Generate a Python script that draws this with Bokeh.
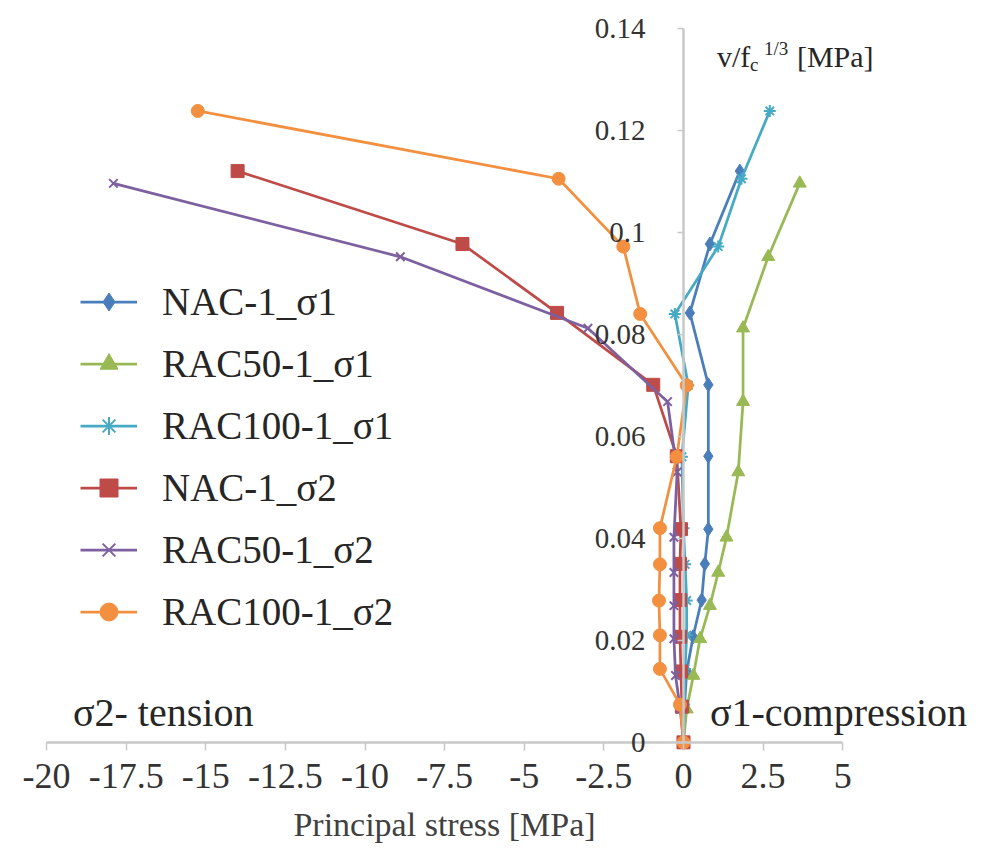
from bokeh.plotting import figure
from bokeh.models import Range1d, FixedTicker, Label
from bokeh.embed import file_html
from bokeh.resources import INLINE

# ---------------- data ----------------
# normalised shear stress v/fc^(1/3) [MPa] for each specimen
y_nac = [0, 0.0070, 0.0139, 0.0207, 0.0279, 0.0350, 0.0418, 0.0561, 0.0701, 0.0842, 0.0977, 0.1120]
y_rac50 = [0, 0.0065, 0.0131, 0.0203, 0.0268, 0.0333, 0.0402, 0.0530, 0.0668, 0.0812, 0.0952, 0.1096]
y_rac100 = [0, 0.0074, 0.0144, 0.0210, 0.0278, 0.0349, 0.0420, 0.0560, 0.0700, 0.0840, 0.0972, 0.1105, 0.1238]

# principal stresses [MPa]
nac_s1 = [0, 0.03, 0.10, 0.30, 0.57, 0.67, 0.78, 0.78, 0.78, 0.20, 0.83, 1.77]
rac50_s1 = [0, 0.10, 0.31, 0.52, 0.83, 1.09, 1.35, 1.72, 1.87, 1.87, 2.66, 3.65]
rac100_s1 = [0, 0.02, 0.05, 0.10, 0.10, 0.05, 0.00, -0.05, 0.15, -0.27, 1.09, 1.82, 2.71]
nac_s2 = [0, -0.05, -0.08, -0.11, -0.11, -0.11, -0.08, -0.21, -0.95, -3.97, -6.94, -14.0]
rac50_s2 = [0, -0.10, -0.25, -0.30, -0.30, -0.30, -0.30, -0.20, -0.50, -3.0, -8.89, -17.9]
rac100_s2 = [0, -0.11, -0.74, -0.74, -0.77, -0.74, -0.74, -0.21, 0.10, -1.36, -1.89, -3.92, -15.25]

series_names = ["NAC-1_\u03c31", "RAC50-1_\u03c31", "RAC100-1_\u03c31",
                "NAC-1_\u03c32", "RAC50-1_\u03c32", "RAC100-1_\u03c32"]

x_ticks = [-20, -17.5, -15, -12.5, -10, -7.5, -5, -2.5, 0, 2.5, 5]
x_tick_labels = ["-20", "-17.5", "-15", "-12.5", "-10", "-7.5", "-5", "-2.5", "0", "2.5", "5"]
y_ticks = [0, 0.02, 0.04, 0.06, 0.08, 0.1, 0.12, 0.14]
y_tick_labels = ["0", "0.02", "0.04", "0.06", "0.08", "0.1", "0.12", "0.14"]

# ---------------- figure ----------------
FONT = "Liberation Serif"

p = figure(width=978, height=851, output_backend="svg", toolbar_location=None,
           x_range=Range1d(-21.445, 9.263), y_range=Range1d(-0.0214, 0.14545),
           min_border=0)
p.outline_line_color = None
p.grid.visible = False
p.background_fill_color = "white"

# x axis through y = 0
xa = p.xaxis[0]
xa.fixed_location = 0
xa.bounds = (-20, 5)
xa.ticker = FixedTicker(ticks=x_ticks)
xa.major_label_overrides = dict(zip(x_ticks, x_tick_labels))
xa.axis_line_color = "#c8c8c8"
xa.axis_line_width = 2.5
xa.major_tick_line_color = "#c8c8c8"
xa.major_tick_line_width = 1.5
xa.major_tick_out = 8
xa.major_tick_in = 0
xa.minor_tick_line_color = None
xa.major_label_text_font = FONT
xa.major_label_text_font_style = "normal"
xa.major_label_text_font_size = "36px"
xa.major_label_text_color = "#333333"
xa.major_label_standoff = 14
xa.axis_label = "Principal stress [MPa]"
xa.axis_label_text_font = FONT
xa.axis_label_text_font_size = "34px"
xa.axis_label_text_font_style = "normal"
xa.axis_label_text_color = "#404040"
xa.axis_label_standoff = 14

# y axis through x = 0
ya = p.yaxis[0]
ya.fixed_location = 0
ya.bounds = (0, 0.14)
ya.ticker = FixedTicker(ticks=y_ticks)
ya.major_label_overrides = dict(zip(y_ticks, y_tick_labels))
ya.axis_line_color = "#c8c8c8"
ya.axis_line_width = 2.5
ya.major_tick_line_color = "#c8c8c8"
ya.major_tick_line_width = 1.5
ya.major_tick_out = 6
ya.major_tick_in = 0
ya.minor_tick_line_color = None
ya.major_label_text_font = FONT
ya.major_label_text_font_style = "normal"
ya.major_label_text_font_size = "29px"
ya.major_label_text_color = "#333333"
ya.major_label_standoff = 32

# ---------------- series ----------------
series = [
    (nac_s1, y_nac, "#4A7EBB", "diamond", 14),
    (rac50_s1, y_rac50, "#98B954", "triangle", 13),
    (rac100_s1, y_rac100, "#46AAC5", "asterisk", 12),
    (nac_s2, y_nac, "#BE4B48", "square", 13),
    (rac50_s2, y_rac50, "#7D60A0", "x", 12),
    (rac100_s2, y_rac100, "#F39040", "circle", 13),
]
for name, (xs, ys, col, mk, sz) in zip(series_names, series):
    p.line(xs, ys, line_color=col, line_width=2.75, legend_label=name)
    p.scatter(xs, ys, marker=mk, size=sz, fill_color=col, line_color=col,
              line_width=2 if mk in ("x", "asterisk") else 1, legend_label=name)

lg = p.legend[0]
lg.location = (80, 217)
lg.padding = 0
lg.margin = 0
lg.spacing = 17
lg.glyph_width = 57
lg.glyph_height = 45
lg.label_height = 45
lg.label_standoff = 25
lg.label_text_font = FONT
lg.label_text_font_style = "normal"
lg.label_text_font_size = "39px"
lg.label_text_color = "#262626"
lg.background_fill_alpha = 0
lg.border_line_color = None

# ---------------- annotations ----------------
txt = dict(text_font=FONT, text_font_style="normal", text_color="#262626",
           text_baseline="alphabetic")
p.add_layout(Label(x=-19.17, y=0.0034, y_offset=13, text="\u03c32- tension", text_font_size="40px", **txt))
p.add_layout(Label(x=0.83, y=0.0034, y_offset=13, text="\u03c31-compression", text_font_size="40px", **txt))

# y axis title v/f_c^(1/3) [MPa]
p.add_layout(Label(x=1.05, y=0.1322, y_offset=12, text="v/f", text_font_size="30px", **txt))
p.add_layout(Label(x=1.05, y=0.1322, x_offset=33, y_offset=4, text="c", text_font_size="19px", **txt))
p.add_layout(Label(x=1.05, y=0.1322, x_offset=47, y_offset=20, text="1/3", text_font_size="19px", **txt))
p.add_layout(Label(x=1.05, y=0.1322, x_offset=80, y_offset=12, text="[MPa]", text_font_size="30px", **txt))

open("out.html", "w").write(file_html(p, INLINE))
